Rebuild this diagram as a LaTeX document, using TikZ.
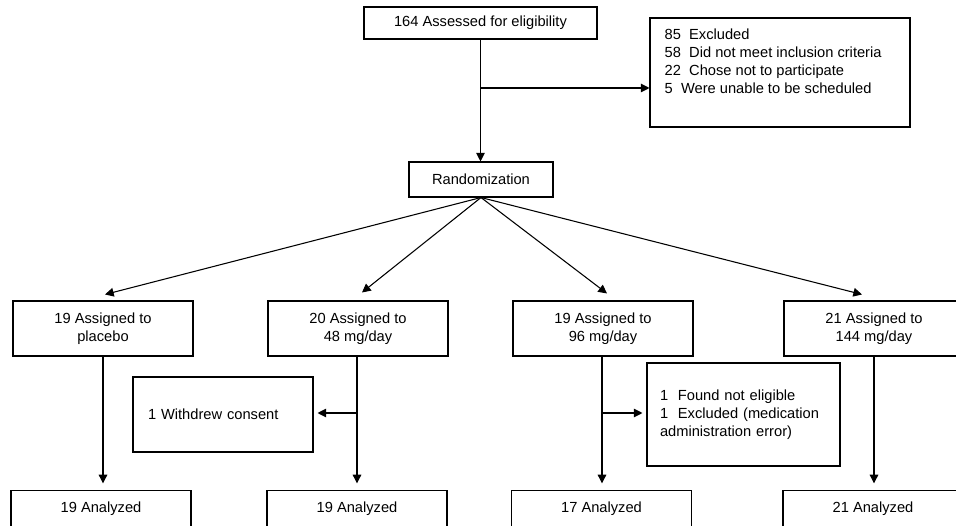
\documentclass[tikz,border=0pt]{standalone}
\usepackage{fontspec}
\setmainfont{Liberation Sans}
\usetikzlibrary{arrows.meta,calc}
\tikzset{
  box/.style={draw,line width=.8pt,minimum width=135pt,minimum height=41.25pt,align=center,inner sep=0pt},
  result/.style={box,minimum height=27pt},
  note/.style={draw,line width=.8pt,align=left},
  arr/.style={line width=.8pt,-{Triangle[length=6.5pt,width=6.5pt]}}
}
\begin{document}
\begin{tikzpicture}[x=.75pt,y=.75pt,font=\fontsize{11}{13.5}\selectfont]
\useasboundingbox (0,0) rectangle (956,525);
\node[box,minimum width=174.75pt,minimum height=24pt] (assess) at (480.5,502) {164 Assessed for eligibility};
\node[note,minimum width=195pt,minimum height=81.75pt] (excl) at (780,452.5) {};
\node[anchor=north west,align=left,inner sep=0pt] (excltxt) at ($(excl.north west)+(15,-11)$)
  {85\ \ Excluded\\58\ \ Did not meet inclusion criteria\\22\ \ Chose not to participate\\5\ \ Were unable to be scheduled};
\node[box,minimum width=108pt,minimum height=26.25pt] (rand) at (481,345.5) {Randomization};
\node[box] (pl) at (103,196.5) {19 Assigned to\\placebo};
\node[box] (m48) at (358,196.5) {20 Assigned to\\48 mg/day};
\node[box] (m96) at (603,196.5) {19 Assigned to\\96 mg/day};
\node[box] (m144) at (874,196.5) {21 Assigned to\\144 mg/day};
\node[note,text width=112.5pt,inner xsep=11.25pt,minimum height=56.25pt] (wd) at (223,110.5) {1 Withdrew consent};
\node[note,text width=125.25pt,inner xsep=9.75pt,minimum height=77.25pt] (fn) at (743.5,110.5)
  {1\ \ Found not eligible\\1\ \ Excluded (medication\\administration error)};
\node[result] (a1) at (101,16.5) {19 Analyzed};
\node[result] (a2) at (357,16.5) {19 Analyzed};
\node[result] (a3) at (601.5,16.5) {17 Analyzed};
\node[result] (a4) at (873,16.5) {21 Analyzed};
\coordinate (br1) at (480.5,437);
\coordinate (br2) at (357,112);
\coordinate (br3) at (602,112);
\draw[arr] (assess) -- (assess |- rand.north);
\draw[arr] (br1) -- (br1 -| excl.west);
\draw[arr] (rand.south) -- ($(pl.north)+(2,6)$);
\draw[arr] (rand.south) -- ($(m48.north)+(4,8)$);
\draw[arr] (rand.south) -- ($(m96.north)+(4,7)$);
\draw[arr] (rand.south) -- ($(m144.north)+(-12,6)$);
\draw[arr,shorten >=5pt] (pl) -- (pl |- a1.north);
\draw[arr,shorten >=5pt] (br2 |- m48.south) -- (br2 |- a2.north);
\draw[arr,shorten >=5pt] (br3 |- m96.south) -- (br3 |- a3.north);
\draw[arr,shorten >=5pt] (m144) -- (m144 |- a4.north);
\draw[arr,shorten >=3pt] (br2) -- (br2 -| wd.east);
\draw[arr,shorten >=3pt] (br3) -- (br3 -| fn.west);
\end{tikzpicture}
\end{document}
